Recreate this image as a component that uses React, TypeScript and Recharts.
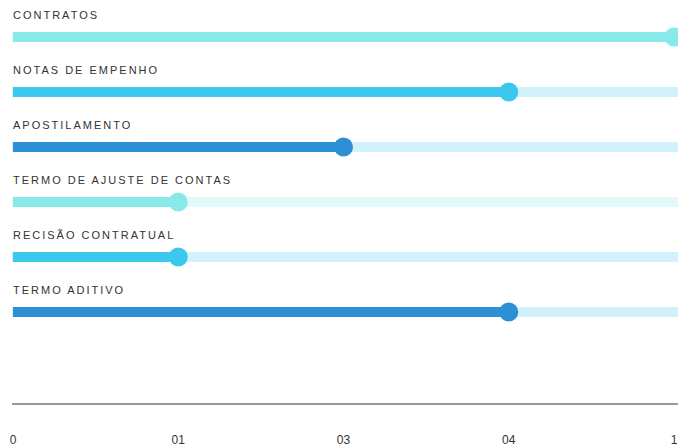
import React from "react";
import { BarChart, Bar, XAxis, YAxis, Cell, LabelList } from "recharts";

const CATEGORIES = [
  "CONTRATOS",
  "NOTAS DE EMPENHO",
  "APOSTILAMENTO",
  "TERMO DE AJUSTE DE CONTAS",
  "RECISÃO CONTRATUAL",
  "TERMO ADITIVO",
];
const VALUES = [4, 3, 2, 1, 1, 3];
const TICKS = [0, 1, 2, 3, 4];
const TICK_LABELS = ["0", "01", "03", "04", "1"];

const BAR_COLORS = ["#88EAE8", "#3AC8EE", "#2E90D4"];
const TRACK_COLORS = ["#E1F9F9", "#D1F2FB", "#D1F2FB"];

const data = CATEGORIES.map((name, i) => ({ name, value: VALUES[i] }));

const FONT = "'Liberation Sans', Arial, sans-serif";

const BarShape = (props: any) => {
  const { x, y, width, height, fill } = props;
  return (
    <g>
      <rect x={x} y={y} width={width} height={height} fill={fill} />
      <circle cx={x + width} cy={y + height / 2} r={9.5} fill={fill} />
    </g>
  );
};

const Track = (props: any) => {
  const { x, y, width, height, index } = props;
  return (
    <rect
      x={x}
      y={y}
      width={width}
      height={height}
      fill={TRACK_COLORS[(index ?? 0) % 3]}
    />
  );
};

const renderLabel = (props: any) => {
  const { x, y, value } = props;
  return (
    <text
      x={x}
      y={y - 13}
      fill="#333"
      fontSize={11}
      fontFamily={FONT}
      letterSpacing={2}
      textAnchor="start"
    >
      {value}
    </text>
  );
};

export default function App() {
  return (
    <div style={{ position: "absolute", left: 0, top: 0, width: 678, height: 446, overflow: "hidden" }}>
      <BarChart
        width={678}
        height={446}
        data={data}
        layout="vertical"
        margin={{ top: 8, right: 0, left: 12, bottom: 0 }}
      >
        <XAxis
          type="number"
          domain={[0, 4]}
          ticks={TICKS}
          interval={0}
          tickFormatter={(v: number, i: number) => TICK_LABELS[i]}
          padding={{ left: 1, right: 4 }}
          height={42}
          axisLine={{ stroke: "#777", strokeWidth: 1.5 }}
          tickLine={false}
          tickSize={6}
          tickMargin={25}
          tick={{ fill: "#333", fontSize: 12, fontFamily: FONT }}
        />
        <YAxis
          type="category"
          dataKey="name"
          hide
          padding={{ top: 1, bottom: 65 }}
        />
        <Bar
          dataKey="value"
          barSize={10}
          isAnimationActive={false}
          background={(p: any) => <Track {...p} />}
          shape={(p: any) => <BarShape {...p} />}
        >
          {data.map((d, i) => (
            <Cell key={d.name} fill={BAR_COLORS[i % 3]} />
          ))}
          <LabelList dataKey="name" content={renderLabel} />
        </Bar>
      </BarChart>
    </div>
  );
}
